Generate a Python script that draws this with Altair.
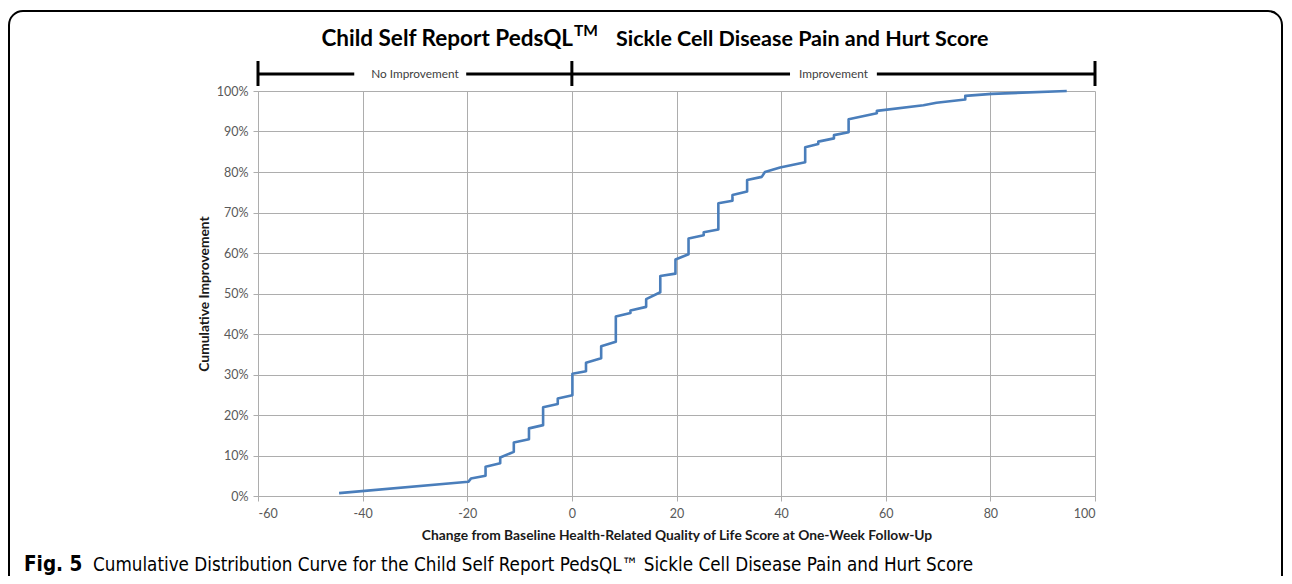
import altair as alt
import pandas as pd

# ---- data ----
x_vals = [-44.5, -19.8, -19.3, -16.5, -16.5, -13.7, -13.7, -11.1, -11.1, -8.2, -8.2,
          -5.5, -5.5, -2.7, -2.7, 0.1, 0.1, 2.7, 2.7, 5.6, 5.6, 8.4, 8.4, 11.2, 11.2,
          14.2, 14.2, 16.9, 16.9, 19.8, 19.8, 22.3, 22.3, 25.2, 25.2, 28.0, 28.0,
          30.7, 30.7, 33.5, 33.5, 36.3, 36.9, 39.8, 44.6, 44.6, 47.1, 47.1, 50.1,
          50.1, 52.9, 52.9, 58.3, 58.3, 67.2, 69.7, 75.2, 75.2, 80.3, 94.6]
y_vals = [0.7, 3.5, 4.3, 5.0, 7.2, 8.1, 9.5, 10.9, 13.2, 14.0, 16.7,
          17.5, 21.9, 22.7, 24.1, 24.9, 30.2, 30.8, 32.9, 34.0, 37.0, 38.1, 44.3, 45.2, 45.8,
          46.7, 48.6, 50.3, 54.3, 54.9, 58.4, 59.7, 63.6, 64.4, 65.1, 65.8, 72.3,
          72.9, 74.3, 75.2, 78.0, 78.8, 80.0, 81.1, 82.4, 86.1, 86.9, 87.5, 88.3,
          89.1, 89.8, 93.0, 94.5, 95.1, 96.5, 97.1, 97.9, 98.8, 99.3, 100.0]

x_ticks = [-60, -40, -20, 0, 20, 40, 60, 80, 100]
y_ticks = [0, 10, 20, 30, 40, 50, 60, 70, 80, 90, 100]

title_main = "Child Self Report PedsQL"
title_sup = "TM"
title_rest = "Sickle Cell Disease Pain and Hurt Score"
bracket_labels = ["No Improvement", "Improvement"]
bracket_label_x = [-30, 50]
bracket_ticks_x = [-60, 0, 100]
bracket_seg_start = [-60, -20.2, 0, 58.3]
bracket_seg_end = [-41.6, 0, 41.7, 100]
x_title = "Change from Baseline Health-Related Quality of Life Score at One-Week Follow-Up"
y_title = "Cumulative Improvement"
caption_bold = "Fig. 5"
caption_text = "Cumulative Distribution Curve for the Child Self Report PedsQL\u2122 Sickle Cell Disease Pain and Hurt Score"

AXIS_FONT = "Lato, 'Open Sans', sans-serif"
NARROW = "'DejaVu Sans Condensed', 'Liberation Sans Narrow', sans-serif"

curve = pd.DataFrame({"x": x_vals, "y": y_vals, "order": list(range(len(x_vals)))})

xscale = alt.Scale(domain=[-60, 100], nice=False, zero=False)
yscale = alt.Scale(domain=[0, 100], nice=False)

line = alt.Chart(curve).mark_line(color="#4a7ebb", strokeWidth=2.6, strokeJoin="round").encode(
    x=alt.X("x:Q", scale=xscale, axis=alt.Axis(
        values=x_ticks, labelExpr="'' + datum.value", title=x_title, grid=True, gridColor="#adadad",
        domainColor="#adadad", tickColor="#adadad", tickSize=5,
        labelFont=AXIS_FONT, labelFontSize=12.5, labelColor="#595959", labelPadding=6,
        titleFont=AXIS_FONT, titleFontSize=13.8, titleFontWeight="bold", titleColor="#1a1a1a",
        titleX=418.5, titleY=39, titleBaseline="middle")),
    y=alt.Y("y:Q", scale=yscale, axis=alt.Axis(
        values=y_ticks, labelExpr="datum.value + '%'", title=y_title, grid=True,
        gridColor="#adadad", domainColor="#adadad", tickColor="#adadad", tickSize=5,
        labelFont=AXIS_FONT, labelFontSize=12.5, labelColor="#595959", labelPadding=5,
        titleFont=AXIS_FONT, titleFontSize=13.8, titleFontWeight="bold", titleColor="#1a1a1a",
        titleX=-54, titleY=202.5, titleAngle=-90, titleBaseline="middle", titleAlign="center")),
    order="order:Q",
)

seg_df = pd.DataFrame({"s": bracket_seg_start, "e": bracket_seg_end})
segs = alt.Chart(seg_df).mark_rule(color="black", strokeWidth=3).encode(
    x=alt.X("s:Q", scale=xscale), x2="e:Q", y=alt.value(-17))

tick_df = pd.DataFrame({"t": bracket_ticks_x})
bticks = alt.Chart(tick_df).mark_rule(color="black", strokeWidth=3).encode(
    x=alt.X("t:Q", scale=xscale), y=alt.value(-30), y2=alt.value(-5))

blab_df = pd.DataFrame({"lx": bracket_label_x, "label": bracket_labels})
blabels = alt.Chart(blab_df).mark_text(font=AXIS_FONT, fontSize=11.8, color="#404040",
                                       baseline="middle").encode(
    x=alt.X("lx:Q", scale=xscale), y=alt.value(-17), text="label:N")

t1 = alt.Chart(pd.DataFrame({"t": [title_main]})).mark_text(
    font=AXIS_FONT, fontSize=22.5, fontWeight="bold", color="black", align="right", baseline="alphabetic"
).encode(x=alt.value(315), y=alt.value(-45), text="t:N")
t2 = alt.Chart(pd.DataFrame({"t": [title_sup]})).mark_text(
    font=AXIS_FONT, fontSize=15.5, fontWeight="bold", color="black", align="left", baseline="alphabetic"
).encode(x=alt.value(316), y=alt.value(-55), text="t:N")
t3 = alt.Chart(pd.DataFrame({"t": [title_rest]})).mark_text(
    font=AXIS_FONT, fontSize=21.5, fontWeight="bold", color="black", align="left", baseline="alphabetic"
).encode(x=alt.value(358), y=alt.value(-45), text="t:N")

c1 = alt.Chart(pd.DataFrame({"t": [caption_bold]})).mark_text(
    font=NARROW, fontSize=20.5, fontWeight="bold", color="black", align="left", baseline="alphabetic"
).encode(x=alt.value(-234), y=alt.value(480), text="t:N")
c2 = alt.Chart(pd.DataFrame({"t": [caption_text]})).mark_text(
    font=NARROW, fontSize=18.7, color="black", align="left", baseline="alphabetic"
).encode(x=alt.value(-165), y=alt.value(480), text="t:N")

frame = alt.Chart(pd.DataFrame({"f": [1]})).mark_rect(
    fillOpacity=0, stroke="black", strokeWidth=2, cornerRadius=14
).encode(x=alt.value(-249), x2=alt.value(1024), y=alt.value(-80), y2=alt.value(560))

chart = alt.layer(frame, line, segs, bticks, blabels, t1, t2, t3, c1, c2).properties(
    width=837, height=405,
    autosize=alt.AutoSizeParams(type="none"),
    padding={"left": 250, "top": 83, "right": 188, "bottom": 80},
    background="white",
).configure_view(stroke=None)

chart.save("out.html", embed_options={"renderer": "svg", "actions": False})
